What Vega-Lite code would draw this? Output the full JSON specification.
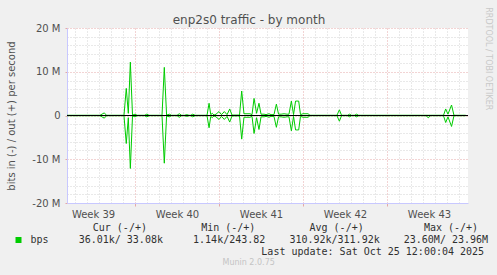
{
  "$schema": "https://vega.github.io/schema/vega-lite/v6.json",
  "width": 401,
  "height": 175,
  "autosize": {"type": "none"},
  "padding": {"left": 67, "top": 28, "right": 29, "bottom": 72},
  "background": "#f0f0f0",
  "config": {"view": {"fill": "white", "stroke": null}, "font": "DejaVu Sans"},
  "title": {"text": "Munin 2.0.75", "orient": "bottom", "anchor": "middle", "frame": "bounds", "fontSize": 8, "fontWeight": "normal", "color": "#c4c4c4", "offset": 3},
  "data": {"values": [
    {"t": -5.67, "out": 50000, "in": -50000},
    {"t": -2.92, "out": 50000, "in": -50000},
    {"t": -2.56, "out": 600000, "in": -600000},
    {"t": -2.38, "out": 50000, "in": -50000},
    {"t": -0.92, "out": 50000, "in": -50000},
    {"t": -0.73, "out": 6200000, "in": -6400000},
    {"t": -0.56, "out": 500000, "in": -500000},
    {"t": -0.39, "out": 12200000, "in": -12100000},
    {"t": -0.21, "out": 100000, "in": -100000},
    {"t": 0, "out": 300000, "in": -300000},
    {"t": 0.17, "out": 50000, "in": -50000},
    {"t": 0.79, "out": 50000, "in": -50000},
    {"t": 0.98, "out": 300000, "in": -300000},
    {"t": 1.17, "out": 50000, "in": -50000},
    {"t": 2.25, "out": 50000, "in": -50000},
    {"t": 2.44, "out": 11000000, "in": -10900000},
    {"t": 2.63, "out": 100000, "in": -100000},
    {"t": 2.86, "out": 300000, "in": -300000},
    {"t": 3.04, "out": 50000, "in": -50000},
    {"t": 3.5, "out": 50000, "in": -50000},
    {"t": 3.69, "out": 400000, "in": -400000},
    {"t": 3.88, "out": 50000, "in": -50000},
    {"t": 4.13, "out": 50000, "in": -50000},
    {"t": 4.31, "out": 200000, "in": -200000},
    {"t": 4.5, "out": 50000, "in": -50000},
    {"t": 4.63, "out": 50000, "in": -50000},
    {"t": 4.81, "out": 300000, "in": -300000},
    {"t": 5.0, "out": 50000, "in": -50000},
    {"t": 6.0, "out": 50000, "in": -50000},
    {"t": 6.17, "out": 2800000, "in": -2800000},
    {"t": 6.31, "out": 200000, "in": -200000},
    {"t": 6.44, "out": 500000, "in": -500000},
    {"t": 6.58, "out": 100000, "in": -100000},
    {"t": 6.75, "out": 300000, "in": -300000},
    {"t": 7.0, "out": 900000, "in": -900000},
    {"t": 7.21, "out": 200000, "in": -200000},
    {"t": 7.44, "out": 900000, "in": -900000},
    {"t": 7.67, "out": 200000, "in": -200000},
    {"t": 7.89, "out": 1500000, "in": -1500000},
    {"t": 8.08, "out": 100000, "in": -100000},
    {"t": 8.71, "out": 100000, "in": -100000},
    {"t": 8.89, "out": 5600000, "in": -5400000},
    {"t": 9.08, "out": 400000, "in": -400000},
    {"t": 9.25, "out": 400000, "in": -400000},
    {"t": 9.58, "out": 400000, "in": -400000},
    {"t": 9.75, "out": 200000, "in": -200000},
    {"t": 9.92, "out": 3900000, "in": -4100000},
    {"t": 10.13, "out": 500000, "in": -500000},
    {"t": 10.33, "out": 2800000, "in": -3200000},
    {"t": 10.5, "out": 300000, "in": -300000},
    {"t": 10.75, "out": 300000, "in": -300000},
    {"t": 10.92, "out": 200000, "in": -200000},
    {"t": 11.17, "out": 400000, "in": -400000},
    {"t": 11.33, "out": 200000, "in": -200000},
    {"t": 11.58, "out": 200000, "in": -200000},
    {"t": 11.78, "out": 2600000, "in": -2700000},
    {"t": 11.96, "out": 300000, "in": -300000},
    {"t": 12.17, "out": 300000, "in": -300000},
    {"t": 12.42, "out": 400000, "in": -400000},
    {"t": 12.67, "out": 300000, "in": -300000},
    {"t": 12.83, "out": 300000, "in": -300000},
    {"t": 13.03, "out": 3300000, "in": -3500000},
    {"t": 13.21, "out": 200000, "in": -200000},
    {"t": 13.38, "out": 3300000, "in": -3300000},
    {"t": 13.64, "out": 3300000, "in": -3300000},
    {"t": 13.79, "out": 200000, "in": -200000},
    {"t": 14.0, "out": 400000, "in": -400000},
    {"t": 14.42, "out": 400000, "in": -400000},
    {"t": 14.58, "out": 50000, "in": -50000},
    {"t": 16.83, "out": 50000, "in": -50000},
    {"t": 17.03, "out": 1300000, "in": -1300000},
    {"t": 17.21, "out": 50000, "in": -50000},
    {"t": 17.71, "out": 50000, "in": -50000},
    {"t": 17.88, "out": 300000, "in": -300000},
    {"t": 18.04, "out": 50000, "in": -50000},
    {"t": 18.29, "out": 50000, "in": -50000},
    {"t": 18.46, "out": 300000, "in": -300000},
    {"t": 18.63, "out": 50000, "in": -50000},
    {"t": 24.25, "out": 50000, "in": -50000},
    {"t": 24.44, "out": 50000, "in": -500000},
    {"t": 24.63, "out": 50000, "in": -50000},
    {"t": 25.71, "out": 50000, "in": -50000},
    {"t": 25.89, "out": 1500000, "in": -1600000},
    {"t": 26.08, "out": 300000, "in": -300000},
    {"t": 26.38, "out": 2400000, "in": -2500000},
    {"t": 26.58, "out": 50000, "in": -50000},
    {"t": 27.56, "out": 50000, "in": -50000}
  ]},
  "resolve": {"axis": {"x": "independent", "y": "independent"}},
  "layer": [
    {
      "mark": {"type": "line", "strokeWidth": 1},
      "encoding": {
        "x": {"field": "t", "type": "quantitative",
          "scale": {"domain": [-5.67, 27.75], "nice": false, "zero": false},
          "axis": {
            "orient": "bottom",
            "values": [-5,-4,-3,-2,-1,0,1,2,3,4,5,6,7,8,9,10,11,12,13,14,15,16,17,18,19,20,21,22,23,24,25,26,27,-3.5,3.5,10.5,17.5,24.5],
            "labelExpr": "(datum.value - 3.5) % 7 == 0 ? 'Week ' + (40 + (datum.value - 3.5) / 7) : ''",
            "labelFlush": false, "labelOverlap": false, "labelFontSize": 10, "labelColor": "#505050", "labelPadding": 3,
            "grid": true,
            "gridColor": {"condition": {"test": "datum.value % 7 == 0", "value": "#e4a8a8"}, "value": "#d2d2d2"},
            "gridOpacity": {"condition": {"test": "datum.value % 1 != 0", "value": 0}, "value": 1},
            "gridDash": [1, 2],
            "tickSize": 3,
            "tickColor": {"condition": {"test": "datum.value % 7 == 0", "value": "#e4a8a8"}, "value": "transparent"},
            "domainColor": "#c8c8ff",
            "title": [
              "\u200b\u00a0\u00a0\u00a0\u00a0\u00a0\u00a0\u00a0\u00a0\u00a0\u00a0\u00a0\u00a0\u00a0Cur\u00a0(-/+)\u00a0\u00a0\u00a0\u00a0\u00a0\u00a0\u00a0\u00a0\u00a0Min\u00a0(-/+)\u00a0\u00a0\u00a0\u00a0\u00a0\u00a0\u00a0\u00a0\u00a0Avg\u00a0(-/+)\u00a0\u00a0\u00a0\u00a0\u00a0\u00a0\u00a0\u00a0\u00a0\u00a0Max\u00a0(-/+)",
              "\u200b\u00a0\u00a0\u00a0\u00a0\u00a0\u00a0\u00a0\u00a0\u00a0\u00a0\u00a0\u00a0\u00a0\u00a0\u00a0\u00a0\u00a0\u00a0\u00a0\u00a0\u00a0\u00a0\u00a0\u00a0\u00a0\u00a0\u00a0\u00a0\u00a0\u00a0\u00a0\u00a0\u00a0\u00a0\u00a0\u00a0\u00a0\u00a0\u00a0\u00a0\u00a0Last\u00a0update:\u00a0Sat\u00a0Oct\u00a025\u00a012:00:04\u00a02025"
            ],
            "titleFont": "DejaVu Sans Mono", "titleFontSize": 10, "titleFontWeight": "normal", "titleColor": "#303030",
            "titleAlign": "left", "titleBaseline": "top", "titleX": -53, "titleY": 19, "titleLineHeight": 24.4
          }
        },
        "y": {"field": "out", "type": "quantitative",
          "scale": {"domain": [-20000000, 20000000], "nice": false},
          "axis": {
            "orient": "left",
            "values": [-20000000,-18000000,-16000000,-14000000,-12000000,-10000000,-8000000,-6000000,-4000000,-2000000,0,2000000,4000000,6000000,8000000,10000000,12000000,14000000,16000000,18000000,20000000],
            "labelExpr": "datum.value % 10000000 == 0 ? (datum.value == 0 ? '0' : (datum.value / 1000000) + ' M') : ''",
            "labelFlush": false, "labelOverlap": false, "labelFontSize": 10, "labelColor": "#505050", "labelPadding": 5,
            "grid": true,
            "gridColor": {"condition": {"test": "datum.value % 10000000 == 0", "value": "#e4a8a8"}, "value": "#d2d2d2"},
            "gridOpacity": {"condition": {"test": "datum.value == -20000000", "value": 0}, "value": 1},
            "gridDash": [1, 2],
            "tickSize": 2,
            "tickColor": {"condition": {"test": "datum.value % 10000000 == 0", "value": "#e4a8a8"}, "value": "transparent"},
            "domainColor": "#c8c8ff",
            "title": "bits in (-) / out (+) per second",
            "titleFontSize": 10, "titleFontWeight": "normal", "titleColor": "#505050",
            "titleX": -56, "titleY": 87.5, "titleAlign": "center", "titleBaseline": "middle", "titleAngle": -90
          }
        },
        "color": {"datum": "bps", "type": "nominal", "scale": {"range": ["#00cc00"]},
          "legend": {
            "orient": "none", "legendX": -53.5, "legendY": 207, "title": null, "padding": 0,
            "symbolType": "square", "symbolSize": 36, "symbolFillColor": "#00cc00", "symbolStrokeColor": "#00cc00", "symbolStrokeWidth": 0,
            "labelExpr": "'bps\u00a0\u00a0\u00a0\u00a0\u00a036.01k/\u00a033.08k\u00a0\u00a0\u00a0\u00a0\u00a01.14k/243.82\u00a0\u00a0\u00a0\u00a0310.92k/311.92k\u00a0\u00a0\u00a0\u00a023.60M/\u00a023.96M'",
            "labelFont": "DejaVu Sans Mono", "labelFontSize": 10, "labelColor": "#303030", "labelOffset": 7, "labelLimit": 0
          }
        }
      }
    },
    {
      "mark": {"type": "line", "strokeWidth": 1},
      "encoding": {
        "x": {"field": "t", "type": "quantitative",
          "scale": {"domain": [-5.67, 27.75], "nice": false, "zero": false},
          "axis": {"orient": "top", "domain": false, "labels": false, "ticks": false, "grid": false,
            "title": "enp2s0 traffic - by month", "titleFontSize": 12, "titleFontWeight": "normal", "titleColor": "#505050",
            "titleX": 181.5, "titleY": -5, "titleAlign": "center", "titleBaseline": "alphabetic"}
        },
        "y": {"field": "in", "type": "quantitative",
          "scale": {"domain": [-20000000, 20000000], "nice": false},
          "axis": {"orient": "right", "domain": false, "labels": false, "ticks": false, "grid": false,
            "title": "RRDTOOL / TOBI OETIKER", "titleFontSize": 8, "titleFontWeight": "normal", "titleColor": "#c8c8c8",
            "titleAngle": 90, "titleX": 19.3, "titleY": 30.3, "titleAlign": "center", "titleBaseline": "middle"}
        },
        "color": {"datum": "bps", "type": "nominal"}
      }
    },
    {
      "mark": {"type": "rule", "color": "black", "strokeWidth": 1},
      "encoding": {
        "y": {"datum": 0, "type": "quantitative", "axis": null}
      }
    }
  ]
}
